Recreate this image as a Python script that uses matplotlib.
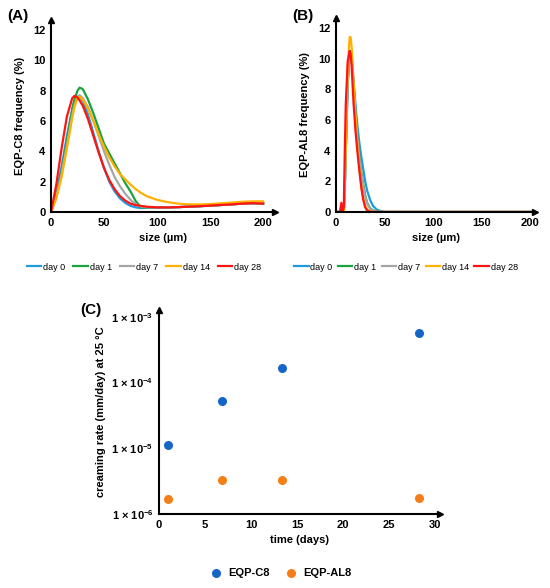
import numpy as np
import matplotlib
matplotlib.use("Agg")
import matplotlib.pyplot as plt
from matplotlib.ticker import FuncFormatter, FixedLocator

plt.rcParams['font.family'] = ['Liberation Sans', 'DejaVu Sans']
plt.rcParams['font.weight'] = 'bold'

# --- panel A : EQP-C8 size distribution ---
size_a = [0, 5, 10, 15, 20, 22, 25, 27, 30, 35, 40, 45, 50, 55, 60, 65, 70, 75,
          80, 85, 90, 100, 110, 120, 130, 140, 150, 160, 170, 180, 190, 200]
a_day0 = [0, 1.2, 3.0, 5.0, 6.8, 7.3, 7.6, 7.6, 7.3, 6.4, 5.2, 4.0, 2.9, 2.0, 1.35, 0.9,
          0.6, 0.4, 0.3, 0.26, 0.28, 0.3, 0.3, 0.32, 0.35, 0.38, 0.42, 0.46, 0.5, 0.55, 0.58, 0.56]
a_day1 = [0, 1.0, 2.6, 4.7, 6.7, 7.4, 8.0, 8.2, 8.1, 7.4, 6.5, 5.5, 4.5, 3.85, 3.2, 2.55,
          1.9, 1.35, 0.7, 0.3, 0.3, 0.3, 0.3, 0.32, 0.35, 0.38, 0.42, 0.46, 0.5, 0.55, 0.58, 0.56]
a_day7 = [0, 1.0, 2.5, 4.4, 6.4, 7.0, 7.6, 7.7, 7.5, 6.9, 6.0, 5.0, 4.0, 3.1, 2.3, 1.7,
          1.2, 0.8, 0.5, 0.35, 0.32, 0.3, 0.3, 0.32, 0.35, 0.38, 0.42, 0.46, 0.5, 0.55, 0.58, 0.56]
a_day14 = [0, 0.9, 2.3, 4.2, 6.2, 6.9, 7.55, 7.6, 7.4, 6.8, 6.0, 5.1, 4.3, 3.6, 3.0, 2.5,
           2.15, 1.8, 1.5, 1.25, 1.05, 0.8, 0.65, 0.55, 0.5, 0.5, 0.52, 0.57, 0.62, 0.67, 0.7, 0.7]
a_day28 = [0, 1.8, 4.2, 6.3, 7.5, 7.65, 7.55, 7.35, 7.0, 6.1, 5.0, 3.9, 2.9, 2.1, 1.5, 1.05,
           0.75, 0.55, 0.45, 0.4, 0.35, 0.3, 0.3, 0.32, 0.35, 0.38, 0.42, 0.46, 0.5, 0.55, 0.58, 0.55]

# --- panel B : EQP-AL8 size distribution ---
size_b = [0, 4, 5.5, 6.5, 8, 9, 10, 12, 14, 15, 16, 18, 20, 22, 24, 26, 28, 30, 32, 35,
          38, 42, 46, 50, 100, 150, 200]
b_day0 = [0, 0, 0, 0, 0, 1.5, 3.8, 8.3, 10.3, 10.4, 10.0, 8.6, 7.0, 5.6, 4.5, 3.6, 2.8,
          2.0, 1.4, 0.8, 0.4, 0.15, 0.05, 0, 0, 0, 0]
b_day1 = [0, 0, 0, 0, 0, 1.5, 4.0, 8.6, 10.4, 10.5, 10.0, 8.3, 6.5, 4.9, 3.6, 2.6, 1.8,
          1.1, 0.6, 0.25, 0.1, 0.03, 0, 0, 0, 0, 0]
b_day7 = [0, 0, 0, 0, 0, 1.5, 4.0, 8.5, 10.3, 10.4, 9.9, 8.2, 6.4, 4.8, 3.5, 2.5, 1.7,
          1.0, 0.55, 0.2, 0.08, 0.02, 0, 0, 0, 0, 0]
b_day14 = [0, 0, 0, 0, 0, 1.8, 4.5, 9.5, 11.4, 11.4, 10.8, 8.5, 6.2, 4.3, 2.9, 1.7, 0.9,
           0.4, 0.15, 0.03, 0, 0, 0, 0, 0, 0, 0]
b_day28 = [0, 0, 0.6, 0, 0.3, 4.0, 7.0, 9.8, 10.5, 10.3, 9.6, 7.1, 5.3, 3.9, 2.7, 1.6, 0.8,
           0.3, 0.1, 0.02, 0, 0, 0, 0, 0, 0, 0]

days = ['day 0', 'day 1', 'day 7', 'day 14', 'day 28']
line_colors = ['#1e9be0', '#1aa33a', '#a6a6a6', '#ffb000', '#ff1414']

# --- panel C : creaming rate ---
time_days = [1.0, 6.8, 13.3, 28.2]
rate_c8 = [1.12e-5, 5.3e-5, 1.68e-4, 5.7e-4]
rate_al8 = [1.68e-6, 3.25e-6, 3.25e-6, 1.75e-6]

FS = 8


def arrow_axes(ax):
    for s in ['top', 'right']:
        ax.spines[s].set_visible(False)
    for s in ['left', 'bottom']:
        ax.spines[s].set_linewidth(1.5)
    ax.plot(1, 0, '>k', ms=5, transform=ax.transAxes, clip_on=False)
    ax.plot(0, 1, '^k', ms=5, transform=ax.transAxes, clip_on=False)
    ax.tick_params(length=0, labelsize=FS, pad=4)


fig = plt.figure(figsize=(5.5, 5.88), dpi=100)

axa = fig.add_axes([0.0927, 0.6395, 0.407, 0.3265])
for ys, lab, c in zip([a_day0, a_day1, a_day7, a_day14, a_day28], days, line_colors):
    axa.plot(size_a, ys, color=c, lw=1.6, label=lab)
axa.set_xlim(0, 211)
axa.set_ylim(0, 12.66)
axa.xaxis.set_major_locator(FixedLocator([0, 50, 100, 150, 200]))
axa.yaxis.set_major_locator(FixedLocator([0, 2, 4, 6, 8, 10, 12]))
axa.set_xlabel('size (µm)', fontsize=FS, fontweight='bold')
axa.set_ylabel('EQP-C8 frequency (%)', fontsize=FS, fontweight='bold', labelpad=6)
arrow_axes(axa)
axa.legend(loc='center', bbox_to_anchor=(0.262, 1 - 267 / 588), bbox_transform=fig.transFigure,
           ncol=5, frameon=False, handlelength=1.6, handletextpad=0.2,
           columnspacing=0.9, prop={'weight': 'normal', 'size': 6.5})

axb = fig.add_axes([0.611, 0.6395, 0.362, 0.33])
for ys, lab, c in zip([b_day0, b_day1, b_day7, b_day14, b_day28], days, line_colors):
    axb.plot(size_b, ys, color=c, lw=1.6, label=lab)
axb.set_xlim(0, 205)
axb.set_ylim(0, 12.65)
axb.xaxis.set_major_locator(FixedLocator([0, 50, 100, 150, 200]))
axb.yaxis.set_major_locator(FixedLocator([0, 2, 4, 6, 8, 10, 12]))
axb.set_xlabel('size (µm)', fontsize=FS, fontweight='bold')
axb.set_ylabel('EQP-AL8 frequency (%)', fontsize=FS, fontweight='bold', labelpad=6)
arrow_axes(axb)
axb.legend(loc='center', bbox_to_anchor=(0.738, 1 - 267 / 588), bbox_transform=fig.transFigure,
           ncol=5, frameon=False, handlelength=1.6, handletextpad=0.2,
           columnspacing=0.6, prop={'weight': 'normal', 'size': 6.5})

axc = fig.add_axes([0.289, 0.1259, 0.511, 0.347])
axc.scatter(time_days, rate_c8, s=30, color='#1565c8', label='EQP-C8', zorder=3)
axc.scatter(time_days, rate_al8, s=30, color='#f57f17', label='EQP-AL8', zorder=3)
axc.set_yscale('log')
axc.set_xlim(0, 30.5)
axc.set_ylim(1e-6, 1.27e-3)
axc.xaxis.set_major_locator(FixedLocator([0, 5, 10, 15, 20, 25, 30]))
axc.yaxis.set_major_locator(FixedLocator([1e-6, 1e-5, 1e-4, 1e-3]))
axc.yaxis.set_minor_locator(FixedLocator([]))
axc.yaxis.set_major_formatter(FuncFormatter(
    lambda v, p: r'1 × 10$^{\mathregular{%d}}$' % round(np.log10(v))))
axc.set_xlabel('time (days)', fontsize=FS, fontweight='bold')
axc.set_ylabel('creaming rate (mm/day) at 25 °C', fontsize=FS, fontweight='bold')
arrow_axes(axc)
axc.legend(loc='center', bbox_to_anchor=(0.506, 1 - 573 / 588), bbox_transform=fig.transFigure,
           ncol=2, frameon=False, handletextpad=0.1, columnspacing=0.9,
           prop={'weight': 'bold', 'size': FS})

fig.text(7 / 550, 1 - 16 / 588, '(A)', fontsize=11, fontweight='bold', va='center')
fig.text(292 / 550, 1 - 16 / 588, '(B)', fontsize=11, fontweight='bold', va='center')
fig.text(80 / 550, 1 - 310 / 588, '(C)', fontsize=11, fontweight='bold', va='center')

fig.savefig('out.png', dpi=100)
